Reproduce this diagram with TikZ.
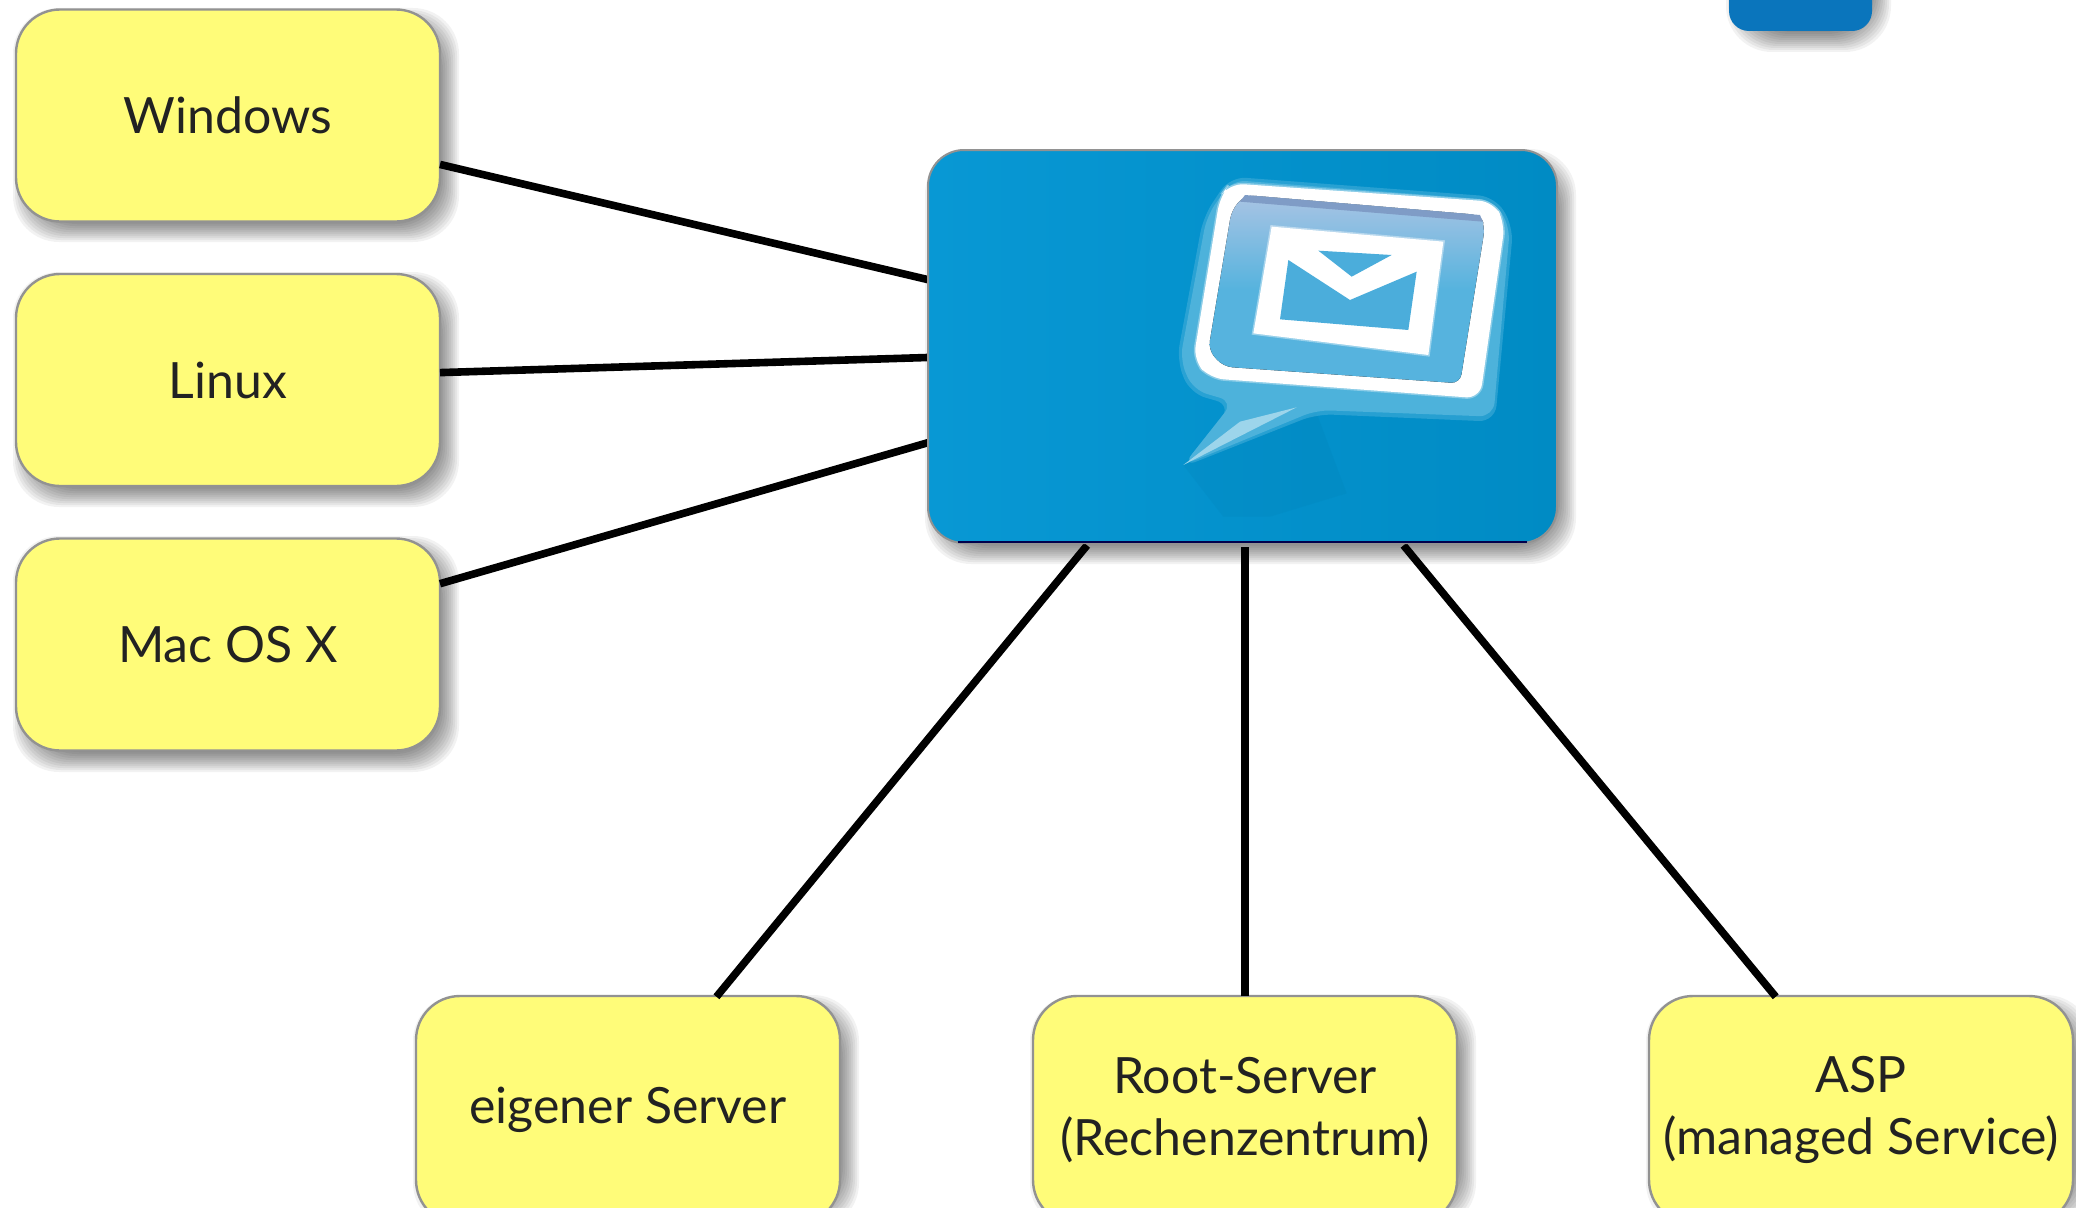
\documentclass[tikz,border=0pt]{standalone}
\usepackage{fontspec}
\setmainfont{Lato}
\definecolor{boxyellow}{HTML}{FFFC79}
\definecolor{boxline}{HTML}{929292}
\definecolor{textdark}{HTML}{222222}
\definecolor{tabblue}{HTML}{0A75BC}
\definecolor{hubleft}{HTML}{0898D4}
\definecolor{hubright}{HTML}{008BC4}
\definecolor{glow}{HTML}{4DB2DB}
\definecolor{inner}{HTML}{56B3DE}
\definecolor{innertop}{HTML}{A9C4E4}
\definecolor{innerline}{HTML}{7F9CC6}
\definecolor{env}{HTML}{4BADDB}
\newcommand{\softshadow}[4]{%
  \foreach \e in {11,9,...,-9}{%
    \fill[black,opacity=0.052,rounded corners=46pt]
      ({#1+8-\e},{#2+10-\e}) rectangle ({#3+8+\e},{#4+10+\e});
  }%
}
\tikzset{
  box/.style={draw=boxline,line width=2.4pt,fill=boxyellow,rounded corners=44pt,
    minimum width=424pt,minimum height=212pt,inner sep=0pt,outer sep=0pt,
    align=center,text=textdark,font=\fontsize{50}{62}\selectfont},
  lowbox/.style={box,minimum height=228pt},
  hubbox/.style={rounded corners=36pt,minimum width=629pt,minimum height=393pt,
    inner sep=0pt,outer sep=0pt},
  tabbox/.style={fill=tabblue,rounded corners=20pt,minimum width=143pt,minimum height=110pt,
    inner sep=0pt,outer sep=0pt},
  link/.style={line width=7.6pt,black}
}
\begin{document}
\begin{tikzpicture}[x=1pt,y=-1pt]
\useasboundingbox (0,0) rectangle (2076,1207);
\fill[white] (0,0) rectangle (2076,1207);
% shadows
\softshadow{16}{9}{440}{221}
\softshadow{16}{273}{440}{486}
\softshadow{16}{537}{440}{751}
\softshadow{416}{996}{840}{1208}
\softshadow{1033}{996}{1457}{1208}
\softshadow{1649}{996}{2073}{1208}
\softshadow{928}{150}{1557}{543}
\softshadow{1729}{-79}{1872}{31}
% named nodes
\node[tabbox] (tab) at (1800.5,-24) {};
\node[box] (win) at (228,115.5) {\raisebox{-4pt}{Windows}};
\node[box] (lin) at (228,380) {\raisebox{-4pt}{Linux}};
\node[box] (mac) at (228,644.5) {\raisebox{-4pt}{Mac OS X}};
\node[lowbox] (eig) at (628,1110) {eigener Server};
\node[lowbox] (root) at (1245,1110) {Root-Server\\(Rechenzentrum)};
\node[lowbox] (asp) at (1861,1110) {ASP\\(managed Service)};
\node[hubbox,left color=hubleft,right color=hubright] (hub) at (1242.5,346.5) {};
% connectors
\begin{scope}[link]
\draw (win.-13) -- (hub.168.3);
\draw (lin.2.5) -- (hub.182.4);
\draw (mac.16.3) -- (hub.197.2);
\draw[shorten >=3pt,shorten <=-1pt] (eig.52.8) -- (hub.232.3);
\draw[shorten >=4pt] (root.north) -- (root.north |- hub.south);
\draw[shorten >=3pt,shorten <=-1pt] (asp.127.2) -- (hub.-51.1);
\end{scope}
% hub picture
\begin{scope}[shift={(1160,160)},x=.33333pt,y=-.33333pt]
\fill[hubright!92!black,opacity=.2] (70,915) -- (470,760) -- (560,1000) -- (330,1070) -- (190,1070) -- cycle;
\fill[glow,opacity=.5,rounded corners=16pt] (210,50) -- (1005,110) -- (1060,200) -- (1005,785) -- (470,762) -- (65,922) -- (215,735) -- (90,700) -- (50,600) -- (130,170) -- cycle;
\fill[glow,rounded corners=14pt] (215,60) -- (1000,120) -- (1050,200) -- (1000,770) -- (470,750) -- (70,915) -- (220,725) -- (100,690) -- (60,600) -- (140,170) -- cycle;
\fill[white!45!glow] (70,915) -- (240,785) -- (410,742) -- cycle;
\draw[white,opacity=.35,line width=3pt,rounded corners=14pt] (210,70) -- (1000,125) -- (1035,190) -- (960,715) -- (150,655) -- (100,600) -- (180,110) -- cycle;
\fill[white,rounded corners=14pt] (210,70) -- (1000,125) -- (1035,190) -- (960,715) -- (150,655) -- (100,600) -- (180,110) -- cycle;
\fill[top color=innertop,bottom color=inner,middle color=inner,rounded corners=9pt] (255,105) -- (960,165) -- (975,200) -- (900,670) -- (190,620) -- (145,570) -- (215,150) -- cycle;
\fill[innerline] (255,105) -- (960,165) -- (968,185) -- (240,125) -- cycle;
\draw[white,opacity=.4,line width=3pt] (335,200) -- (850,245) -- (805,585) -- (280,520) -- cycle;
\fill[white] (335,200) -- (850,245) -- (805,585) -- (280,520) -- cycle;
\fill[env] (385,300) -- (570,420) -- (770,335) -- (745,510) -- (360,478) -- cycle;
\fill[env] (475,272) -- (695,285) -- (575,350) -- cycle;
\end{scope}
% hub border
\draw[boxline,line width=2pt,rounded corners=36pt] (hub.south west) rectangle (hub.north east);
\draw[black!70!blue,line width=2.5pt] ([xshift=30pt,yshift=1pt]hub.south west) -- ([xshift=-30pt,yshift=1pt]hub.south east);
\end{tikzpicture}
\end{document}
